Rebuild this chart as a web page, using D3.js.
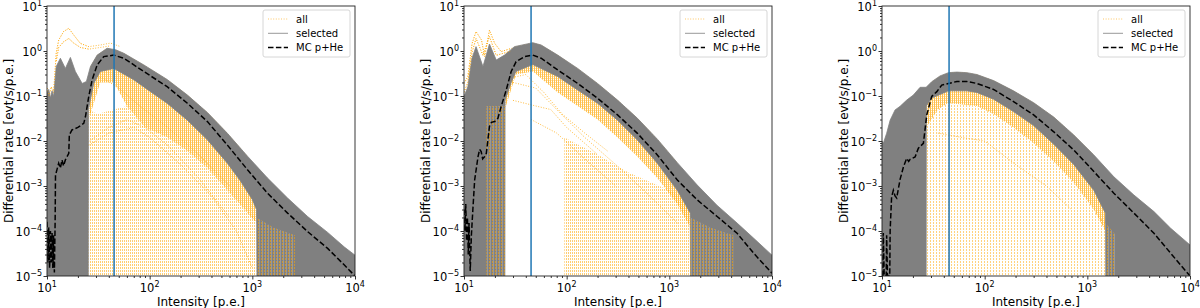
<!DOCTYPE html>
<html><head><meta charset="utf-8">
<script src="https://cdn.jsdelivr.net/npm/d3@7"></script>
<style>
body{margin:0;background:#fff}
svg{display:block}
text{font-family:"DejaVu Sans",sans-serif;fill:#000}
</style>
</head><body>
<svg id="chart" width="1200" height="308"></svg>
<script>
// ---------- tick labels / text ----------
const xTickValues = [1e1, 1e2, 1e3, 1e4];
const xTickExps = ["1", "2", "3", "4"];
const yTickValues = [1e1, 1e0, 1e-1, 1e-2, 1e-3, 1e-4, 1e-5];
const yTickExps = ["1", "0", "\u22121", "\u22122", "\u22123", "\u22124", "\u22125"];
const legendLabels = ["all", "selected", "MC p+He"];
const xLabel = "Intensity [p.e.]";
const yLabel = "Differential rate [evt/s/p.e.]";
const cutIntensity = 45;

// ---------- panel 1 ----------
const p1_mc = [[10.0,1.6e-4],[10.2,2e-5],[10.4,1.2e-4],[10.6,1.5e-5],[10.8,1e-4],[11.0,2e-5],[11.2,9e-5],[11.4,1.5e-5],[11.6,8e-5],[11.8,1.2e-5],[12.0,1.6e-4],[12.1,1.75e-3],[13.0,3.2e-3],[13.5,2.5e-3],[14.0,3.8e-3],[14.5,2.8e-3],[15.1,3.8e-3],[16.3,5.3e-3],[16.5,0.0136],[17.5,0.0176],[20,0.02],[22.8,0.0247],[23.7,0.035],[25.5,0.097],[27.5,0.227],[30.8,0.49],[35.7,0.75],[44.8,0.81],[56,0.69],[87.8,0.35],[148,0.161],[233,0.069],[365,0.027],[572,8.1e-3],[897,2.3e-3],[1407,6.9e-4],[2205,2.5e-4],[3454,9.7e-5],[5415,4.1e-5],[7880,1.75e-5],[10000,1e-5]];
const p1_selTop = [[10,0.115],[10.4,0.14],[10.8,0.09],[11.2,0.13],[11.6,0.097],[12.3,0.45],[13.5,0.69],[15.1,0.41],[16.9,0.72],[18.9,0.35],[22,0.19],[24.2,0.21],[26.5,0.45],[30.8,0.81],[38.5,1.15],[46.5,1.07],[56,0.89],[87.8,0.49],[148,0.233],[233,0.105],[365,0.043],[572,0.0148],[897,4.6e-3],[1407,1.5e-3],[2205,5.4e-4],[3454,2.1e-4],[5415,9.3e-5],[7880,4.4e-5],[10000,2.9e-5]];
const p1_selBottom = [[10,1e-5],[25.2,1e-5],[25.3,0.05],[28.5,0.19],[33,0.35],[44.8,0.41],[70,0.23],[102,0.125],[148,0.069],[233,0.029],[365,0.0106],[572,3.2e-3],[765,1.3e-3],[1000,5e-4],[1100,3e-4],[1110,1e-5],[10000,1e-5]];
const p1_allBandBottom = [[25.5,0.03],[33,0.2],[45,0.2],[60,0.06],[90,0.02],[150,0.012],[233,6e-3],[365,2.5e-3],[572,8e-4],[900,2.5e-4],[1100,1.5e-4]];
const p1_allSpikes = [[[25.3,0.05],[31,0.04],[45,0.05],[60,0.06],[90,0.02],[150,0.012],[233,6e-3],[365,2.5e-3],[572,8e-4],[900,2.5e-4],[1100,2e-4]]];
const p1_allMixed = [[[1100,2e-4],[1600,1.2e-4],[2600,8e-5]]];
const p1_allCurves = [
  [[10,0.15],[10.5,0.1],[11,0.16],[11.6,0.12],[12.3,0.9],[13.0,1.75],[14.5,2.7],[16.3,3.2],[18.2,2.27],[21.1,1.48],[25.5,1.25],[33.2,1.36],[41.5,1.5],[52,1.25]],
  [[12.3,0.6],[13.0,1.2],[14.5,1.6],[16.3,1.9],[18.2,1.5],[21.1,1.2],[25.5,1.1],[33.2,1.2],[41.5,1.3]],
  [[25.5,0.008],[40,0.015],[70,0.02],[100,0.012],[200,3e-3],[400,6e-4],[700,1e-4],[1000,1.5e-5]],
  [[26,0.3],[35,0.25],[50,0.15],[80,0.06],[150,0.02],[300,5e-3],[600,1e-3]],
  [[26,0.01],[40,0.02],[60,0.03],[90,0.02],[150,8e-3],[300,1.5e-3],[600,2e-4]]
];

// ---------- panel 2 ----------
const p2_mc = [[10.0,3e-4],[10.2,1e-4],[10.4,4e-4],[10.6,6e-5],[10.8,2e-4],[11.0,3e-5],[11.2,1.5e-4],[11.5,1.3e-5],[11.8,8e-5],[12.2,3e-4],[12.7,1.36e-3],[13.7,4.5e-3],[14.2,6.5e-3],[14.7,5.8e-3],[15.2,4e-3],[15.9,4.5e-3],[16.5,5.3e-3],[17.7,0.021],[18.5,0.026],[19.9,0.027],[21.4,0.032],[23,0.058],[25.8,0.136],[28.8,0.35],[32.2,0.58],[38.8,0.75],[46.8,0.81],[56.4,0.69],[81.8,0.38],[128,0.19],[200,0.089],[313,0.038],[489,0.0148],[764,4.9e-3],[1196,1.36e-3],[1870,4.9e-4],[2924,2.1e-4],[4571,8.9e-5],[6637,3.2e-5],[10000,1.15e-5]];
const p2_selTop = [[10,0.097],[10.9,0.16],[11.96,0.69],[13.1,1.25],[15.3,0.45],[17.7,1.43],[20.6,0.63],[24.8,0.81],[31,1.25],[46.8,1.53],[56.4,1.36],[81.8,0.81],[128,0.41],[200,0.19],[313,0.081],[489,0.032],[764,0.011],[1196,3.3e-3],[1870,1.05e-3],[2924,3.7e-4],[4571,1.5e-4],[6637,6.9e-5],[10000,2.9e-5]];
const p2_selBottom = [[10,1e-5],[25,1e-5],[25.1,0.08],[28.8,0.2],[32,0.35],[46.8,0.5],[82,0.27],[128,0.136],[200,0.069],[313,0.029],[489,0.0105],[764,3.2e-3],[1196,8e-4],[1600,2.5e-4],[1610,1e-5],[10000,1e-5]];
const p2_allBandBottom = [[25,0.05],[32,0.3],[47,0.35],[82,0.12],[128,0.06],[200,0.03],[313,0.012],[489,4.5e-3],[764,1.5e-3],[1196,4e-4],[1600,1.2e-4]];
const p2_allSpikes = [[[95,0.012],[200,5e-3],[400,2e-3],[800,1e-3],[1600,5e-4]]];
const p2_allMixed = [[[16.5,0.06],[25,0.06]], [[1600,2e-4],[2500,1.2e-4],[4200,8e-5]]];
const p2_allCurves = [
  [[10,0.19],[10.9,0.27],[12,1.48],[13.1,2.7],[14.8,1.76],[15.9,0.75],[17.7,2.9],[19.9,1.48],[23,0.97],[28.8,1.14],[38.8,1.25]],
  [[10,0.12],[10.9,0.2],[12,0.95],[13.1,1.9],[15.3,0.8],[17.7,2.1],[20.6,0.8],[28.8,1.0]],
  [[30,0.2],[50,0.15],[80,0.05],[150,0.012],[300,3e-3],[600,7e-4],[1200,1.5e-4]],
  [[28,0.25],[40,0.3],[60,0.12],[90,0.04],[150,0.015],[250,6e-3]],
  [[30,0.08],[50,0.06],[70,0.05],[100,0.02],[200,5e-3]],
  [[45,0.03],[80,0.015],[150,4e-3],[300,1e-3]]
];

// ---------- panel 3 ----------
const p3_mc = [[10.2,1e-5],[10.3,9e-5],[10.5,1e-5],[11.0,1e-5],[11.1,8e-5],[11.3,1e-5],[11.9,1e-5],[12.0,1e-4],[12.4,5.7e-4],[12.9,8e-4],[13.4,6e-4],[13.9,5.4e-4],[15.0,1.4e-3],[16.2,2.7e-3],[17.4,4.1e-3],[18.2,3.5e-3],[18.8,3.9e-3],[21.0,4.4e-3],[22.6,6.9e-3],[25.3,8.9e-3],[27.3,0.038],[30.5,0.098],[34.2,0.125],[38.2,0.175],[44.4,0.19],[53.6,0.21],[67.1,0.21],[84,0.19],[122,0.14],[191,0.075],[300,0.038],[471,0.016],[738,6.3e-3],[1157,2.1e-3],[1813,6.9e-4],[2843,2.5e-4],[4457,8.9e-5],[6485,3.2e-5],[10000,1e-5]];
const p3_selTop = [[10,0.01],[10.3,8.9e-3],[11.1,0.0148],[12,0.029],[13.4,0.049],[15,0.059],[17.4,0.081],[20.2,0.105],[23.5,0.156],[26.9,0.156],[30.5,0.208],[36.8,0.28],[44.4,0.33],[53.6,0.34],[67.1,0.33],[84,0.3],[122,0.22],[191,0.13],[300,0.071],[471,0.034],[738,0.0136],[1157,4.9e-3],[1813,1.6e-3],[2843,6.3e-4],[4457,2.7e-4],[6485,1.15e-4],[10000,4.9e-5]];
const p3_selBottom = [[10,1e-5],[26.9,1e-5],[27,0.06],[30.5,0.09],[44.4,0.13],[67,0.13],[84,0.12],[122,0.085],[191,0.045],[300,0.022],[471,8.5e-3],[738,3e-3],[1157,8e-4],[1500,2.5e-4],[1510,1e-5],[10000,1e-5]];
const p3_allBandBottom = [[27,0.02],[35,0.05],[44,0.07],[84,0.06],[122,0.04],[191,0.02],[300,9e-3],[471,3.5e-3],[738,1.2e-3],[1157,3e-4],[1500,1e-4]];
const p3_allSpikes = [[[27,0.02],[35,0.05],[44,0.07],[84,0.06],[122,0.04],[191,0.02],[300,9e-3],[471,3.5e-3],[738,1.2e-3],[1157,3e-4],[1500,1.5e-4]]];
const p3_allMixed = [[[1500,1.5e-4],[1900,8e-5]]];
const p3_allCurves = [
  [[35,0.015],[60,0.012],[100,0.01],[200,3e-3],[400,1e-3],[700,3e-4]]
];

const panels = [
  {mc:p1_mc, selTop:p1_selTop, selBottom:p1_selBottom, bandBottom:p1_allBandBottom, spikes:p1_allSpikes, mixed:p1_allMixed, curves:p1_allCurves, spikeFill:"url(#stripes)"},
  {mc:p2_mc, selTop:p2_selTop, selBottom:p2_selBottom, bandBottom:p2_allBandBottom, spikes:p2_allSpikes, mixed:p2_allMixed, curves:p2_allCurves, spikeFill:"url(#stripes)"},
  {mc:p3_mc, selTop:p3_selTop, selBottom:p3_selBottom, bandBottom:p3_allBandBottom, spikes:p3_allSpikes, mixed:p3_allMixed, curves:p3_allCurves, spikeFill:"url(#sparse)"}
];

// ---------- layout ----------
const W = 1200, H = 308;
const lefts = [47, 464, 882];
const pw = 308, plotTop = 6, plotBottom = 276;
const ORANGE = "#ffa500", GRAY = "#808080", BLUE = "#1f77b4";

const svg = d3.select("#chart");
const defs = svg.append("defs");
function makePattern(id, w, h, rects) {
  const p = defs.append("pattern").attr("id", id).attr("patternUnits", "userSpaceOnUse").attr("width", w).attr("height", h);
  rects.forEach(r => p.append("rect").attr("x", r[0]).attr("y", r[1]).attr("width", r[2]).attr("height", r[3])
    .attr("fill", r[4]).attr("opacity", r[5]));
}
makePattern("stripes", 2, 3, [[0, 0, 1, 2, ORANGE, 0.55]]);
makePattern("sparse", 3, 3, [[0, 0, 1, 2, ORANGE, 0.5]]);
makePattern("dense", 2, 2, [[0, 0, 1, 2, ORANGE, 0.7], [1, 0, 1, 1, ORANGE, 0.35]]);
makePattern("mixed", 3, 3, [[0, 0, 1, 2, ORANGE, 0.6], [1, 0, 1, 3, "#fff", 0.2]]);

const minorVals = (lo, hi) => {
  const out = [];
  for (let e = lo; e < hi; e++) for (let m = 2; m <= 9; m++) out.push(m * Math.pow(10, e));
  return out;
};

panels.forEach((P, i) => {
  const L = lefts[i];
  const x = d3.scaleLog().domain([10, 1e4]).range([L, L + pw]);
  const y = d3.scaleLog().domain([1e-5, 10]).range([plotBottom, plotTop]);
  const g = svg.append("g");
  const clipId = "clip" + i;
  defs.append("clipPath").attr("id", clipId).append("rect")
    .attr("x", L).attr("y", plotTop).attr("width", pw).attr("height", plotBottom - plotTop);
  const plot = g.append("g").attr("clip-path", `url(#${clipId})`);
  const line = d3.line().x(d => x(d[0])).y(d => y(d[1]));
  const poly = pts => line(pts) + "Z";
  const toBottom = seg => seg.concat([[seg[seg.length-1][0], 1e-5], [seg[0][0], 1e-5]]);

  // spikes region of "all"
  P.spikes.forEach(seg => plot.append("path").attr("d", poly(toBottom(seg))).attr("fill", P.spikeFill));
  // dense band of "all"
  const x0 = P.bandBottom[0][0], x1 = P.bandBottom[P.bandBottom.length-1][0];
  const bandTop = P.selTop.filter(d => d[0] >= x0 && d[0] <= x1);
  plot.append("path").attr("d", poly([[x0, P.bandBottom[0][1]*3]].concat(bandTop, [[x1, P.bandBottom[P.bandBottom.length-1][1]*3]], P.bandBottom.slice().reverse())))
    .attr("fill", "url(#dense)");
  // individual "all" curves
  P.curves.forEach(c => {
    plot.append("path").attr("d", line(c)).attr("fill", "none")
      .attr("stroke", ORANGE).attr("stroke-width", 1).attr("stroke-dasharray", "1,1.6").attr("opacity", 0.75);
  });
  // selected band
  plot.append("path").attr("d", poly(P.selTop.concat(P.selBottom.slice().reverse())))
    .attr("fill", GRAY).attr("stroke", GRAY).attr("stroke-width", 0.8);
  // "all" runs interleaved within the selected region
  P.mixed.forEach(seg => plot.append("path").attr("d", poly(toBottom(seg))).attr("fill", "url(#mixed)"));
  // "all" curves above band on the left
  P.curves.slice(0, 2).forEach(c => {
    if (i < 2) plot.append("path").attr("d", line(c.filter(d => d[0] < 30))).attr("fill", "none")
      .attr("stroke", ORANGE).attr("stroke-width", 1).attr("stroke-dasharray", "1,1.6").attr("opacity", 0.6);
  });
  // MC
  plot.append("path").attr("d", line(P.mc)).attr("fill", "none")
    .attr("stroke", "#000").attr("stroke-width", 1.5).attr("stroke-dasharray", "5.5,2.4");
  // cut line
  plot.append("line").attr("x1", x(cutIntensity)).attr("x2", x(cutIntensity))
    .attr("y1", plotTop).attr("y2", plotBottom).attr("stroke", BLUE).attr("stroke-width", 1.5);

  // axes
  const gx = g.append("g").attr("transform", `translate(0,${plotBottom})`);
  gx.call(d3.axisBottom(x).tickValues(xTickValues).tickSize(3.5).tickFormat(""));
  const gxm = g.append("g").attr("transform", `translate(0,${plotBottom})`);
  gxm.call(d3.axisBottom(x).tickValues(minorVals(1, 4)).tickSize(2).tickFormat(""));
  const gy = g.append("g").attr("transform", `translate(${L},0)`);
  gy.call(d3.axisLeft(y).tickValues(yTickValues).tickSize(3.5).tickFormat(""));
  const gym = g.append("g").attr("transform", `translate(${L},0)`);
  gym.call(d3.axisLeft(y).tickValues(minorVals(-5, 1)).tickSize(2).tickFormat(""));
  g.selectAll(".domain").remove();
  g.selectAll(".tick line").attr("stroke", "#000").attr("stroke-width", 0.8);

  // spines
  g.append("rect").attr("x", L).attr("y", plotTop).attr("width", pw).attr("height", plotBottom - plotTop)
    .attr("fill", "none").attr("stroke", "#222").attr("stroke-width", 0.9);

  // tick labels
  xTickValues.forEach((v, k) => {
    const t = g.append("text").attr("x", x(v)).attr("y", plotBottom + 16).attr("text-anchor", "middle").attr("font-size", 11.5);
    t.append("tspan").text("10");
    t.append("tspan").attr("dy", -5).attr("font-size", 8).text(xTickExps[k]);
  });
  yTickValues.forEach((v, k) => {
    const t = g.append("text").attr("x", L - 5).attr("y", y(v) + 4.5).attr("text-anchor", "end").attr("font-size", 11.5);
    t.append("tspan").text("10");
    t.append("tspan").attr("dy", -5).attr("font-size", 8).text(yTickExps[k]);
  });
  // axis labels
  g.append("text").attr("x", L + pw / 2).attr("y", H - 2).attr("text-anchor", "middle").attr("font-size", 12).text(xLabel);
  g.append("text").attr("transform", `translate(${L - 34},${(plotTop + plotBottom) / 2}) rotate(-90)`)
    .attr("text-anchor", "middle").attr("font-size", 12).text(yLabel);

  // legend
  const lw = 87, lh = 47, lx = L + pw - 5 - lw, ly = 10;
  g.append("rect").attr("x", lx).attr("y", ly).attr("width", lw).attr("height", lh).attr("rx", 2)
    .attr("fill", "#fff").attr("fill-opacity", 0.8).attr("stroke", "#ccc").attr("stroke-width", 0.8);
  const styles = [
    {stroke: ORANGE, dash: "1,1.6", op: 0.6, w: 1},
    {stroke: GRAY, dash: null, op: 0.8, w: 1},
    {stroke: "#000", dash: "5.5,2.4", op: 1, w: 1.5}
  ];
  legendLabels.forEach((lab, k) => {
    const yy = ly + 9 + k * 14.3;
    g.append("line").attr("x1", lx + 5).attr("x2", lx + 25).attr("y1", yy).attr("y2", yy)
      .attr("stroke", styles[k].stroke).attr("stroke-width", styles[k].w)
      .attr("stroke-dasharray", styles[k].dash).attr("opacity", styles[k].op);
    g.append("text").attr("x", lx + 33).attr("y", yy + 3.5).attr("font-size", 10).text(lab);
  });
});
</script>
</body></html>
